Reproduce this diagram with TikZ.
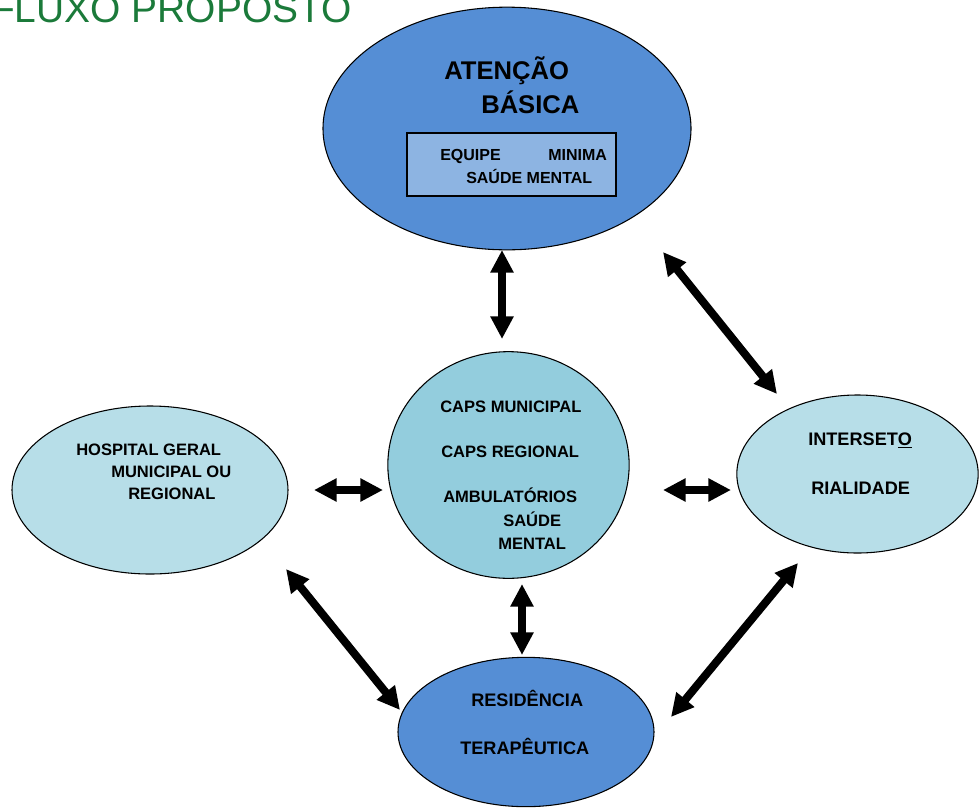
\documentclass[tikz,border=0pt]{standalone}
\usepackage{fontspec}
\setmainfont{Liberation Sans}
\usetikzlibrary{shapes.geometric,arrows.meta}
\definecolor{dblue}{HTML}{558ED5}
\definecolor{rblue}{HTML}{8DB4E2}
\definecolor{cblue}{HTML}{93CDDD}
\definecolor{lblue}{HTML}{B7DEE8}
\definecolor{tgreen}{HTML}{1B7A3A}
\begin{document}
\begin{tikzpicture}[x=0.75pt,y=-0.75pt,
  bub/.style={ellipse,draw=black,line width=0.8pt,inner sep=0pt},
  lbl/.style={anchor=base west,inner sep=0pt,font=\bfseries\fontsize{12.4}{14}\selectfont},
  lblm/.style={anchor=base west,inner sep=0pt,font=\bfseries\fontsize{13.6}{16}\selectfont},
  lblb/.style={anchor=base west,inner sep=0pt,font=\bfseries\fontsize{19.2}{22}\selectfont},
  dbl/.style={line width=6pt,{Triangle[width=16.5pt,length=17pt]}-{Triangle[width=16.5pt,length=17pt]}}]
\useasboundingbox (0,0) rectangle (979,808);

% title
\node[anchor=base east,inner sep=0pt,text=tgreen,font=\fontsize{29.2}{34}\selectfont] (title) at (352,22) {FLUXO PROPOSTO};

% shapes
\node[bub,fill=dblue,minimum width=276pt,minimum height=182pt] (top) at (507,128.5) {};
\node[draw=black,line width=0.8pt,fill=rblue,minimum width=156.75pt,minimum height=47.25pt,inner sep=0pt] (box) at (511.5,164.5) {};
\node[bub,fill=cblue,minimum width=181pt,minimum height=170pt] (caps) at (508.5,465) {};
\node[bub,fill=lblue,minimum width=207pt,minimum height=126pt] (hosp) at (150,490) {};
\node[bub,fill=lblue,minimum width=181pt,minimum height=118.5pt] (inter) at (857.5,474) {};
\node[bub,fill=dblue,minimum width=192pt,minimum height=112pt] (res) at (526,732) {};

% texts
\node[lblb] (t1) at (444,79) {ATENÇÃO};
\node[lblb] (t2) at (481,113) {BÁSICA};
\node[lbl,font=\bfseries\fontsize{12}{14}\selectfont] (b1) at (440,160) {EQUIPE};
\node[lbl,font=\bfseries\fontsize{12}{14}\selectfont] (b2) at (548,160) {MINIMA};
\node[lbl,font=\bfseries\fontsize{12}{14}\selectfont] (b3) at (466,183) {SAÚDE MENTAL};

\node[lbl] (h1) at (76,455) {HOSPITAL GERAL};
\node[lbl] (h2) at (111,477) {MUNICIPAL OU};
\node[lbl] (h3) at (128,499) {REGIONAL};

\node[lbl] (c1) at (440,412) {CAPS MUNICIPAL};
\node[lbl] (c2) at (441,457) {CAPS REGIONAL};
\node[lbl] (c3) at (443,502) {AMBULATÓRIOS};
\node[lbl] (c4) at (503,526) {SAÚDE};
\node[lbl] (c5) at (498,549) {MENTAL};

\node[lblm] (i1) at (808,445) {INTERSET\underline{O}};
\node[lblm] (i2) at (811,494) {RIALIDADE};

\node[lblm] (r1) at (471,706) {RESIDÊNCIA};
\node[lblm] (r2) at (460,754) {TERAPÊUTICA};

% arrow end points
\coordinate (a1s) at (502,250); \coordinate (a1e) at (502,339);
\coordinate (a2s) at (663,252); \coordinate (a2e) at (777,394);
\coordinate (a3s) at (314,490); \coordinate (a3e) at (383,490);
\coordinate (a4s) at (663,490); \coordinate (a4e) at (731,490);
\coordinate (a5s) at (522,584); \coordinate (a5e) at (522,655);
\coordinate (a6s) at (286,569); \coordinate (a6e) at (400,710);
\coordinate (a7s) at (798,563); \coordinate (a7e) at (671,717);

\draw[dbl] (a1s) -- (a1e);
\draw[dbl] (a2s) -- (a2e);
\draw[dbl] (a3s) -- (a3e);
\draw[dbl] (a4s) -- (a4e);
\draw[dbl] (a5s) -- (a5e);
\draw[dbl] (a6s) -- (a6e);
\draw[dbl] (a7s) -- (a7e);
\end{tikzpicture}
\end{document}
